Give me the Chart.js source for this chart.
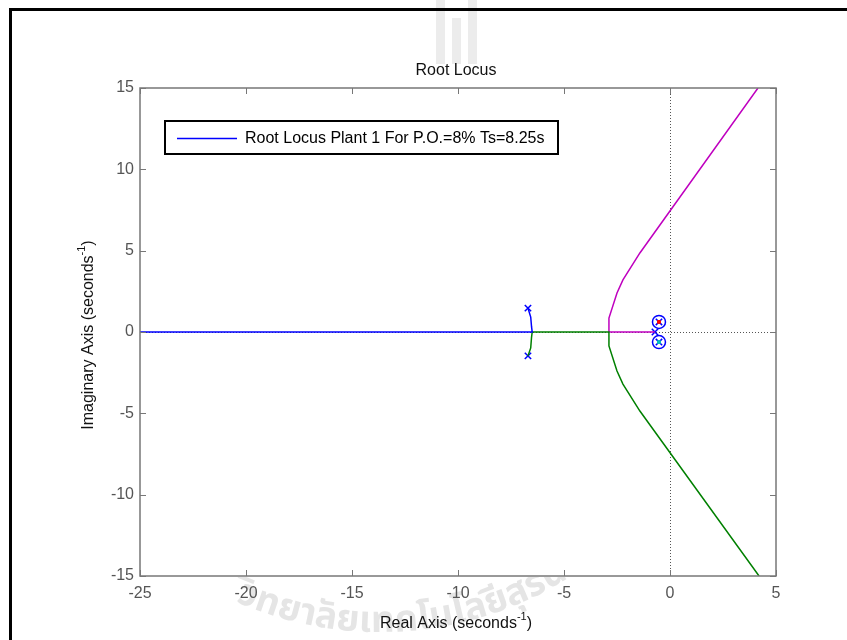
<!DOCTYPE html>
<html>
<head>
<meta charset="utf-8">
<title>Root Locus</title>
<script src="https://cdn.jsdelivr.net/npm/chart.js@4.4.1/dist/chart.umd.min.js"></script>
<style>
  html, body { margin: 0; padding: 0; background: #fff; }
  #wrap { width: 847px; height: 640px; position: relative; }
</style>
</head>
<body>
<div id="wrap"><canvas id="rlocus" width="847" height="640"></canvas></div>
<script>
// axis ranges and ticks
const xTicks = [-25, -20, -15, -10, -5, 0, 5];
const yTicks = [-15, -10, -5, 0, 5, 10, 15];

// branch 1 (blue): upper pole -> breakaway -> left along real axis
const blueRe = [-6.70, -6.57, -6.53, -6.50, -25];
const blueIm = [1.47, 0.92, 0.31, 0, 0];

// branch 2 (green): lower pole -> breakaway -> right -> down the asymptote
const greenRe = [-6.70, -6.57, -6.53, -6.50, -2.88, -2.88, -2.50, -2.22, -1.42, 4.20];
const greenIm = [-1.47, -0.98, -0.31, 0, 0, -0.86, -2.40, -3.20, -4.86, -15];

// branch 3 (magenta): real pole -> breakin -> up the asymptote
const magRe = [-0.71, -2.88, -2.88, -2.50, -2.22, -1.42, 4.15];
const magIm = [0, 0, 0.86, 2.40, 3.20, 4.86, 15];

// open loop poles and zeros
const poleRe = [-6.70, -6.70, -0.71, -0.52, -0.52];
const poleIm = [1.47, -1.47, 0, 0.62, -0.62];
const zeroRe = [-0.52, -0.52];
const zeroIm = [0.62, -0.62];

const legendText = "Root Locus Plant 1 For P.O.=8% Ts=8.25s";
const titleText = "Root Locus";
const FONT = "'Liberation Sans', Arial, sans-serif";

function pts(re, im) {
  return re.map((x, i) => ({ x: x, y: im[i] }));
}

function lineSet(re, im, color) {
  return {
    data: pts(re, im),
    showLine: true,
    borderColor: color,
    borderWidth: 1.5,
    pointRadius: 0,
    tension: 0,
    fill: false
  };
}

// text with a superscript "-1" e.g. "Real Axis (seconds^-1)"
function supText(ctx, pre, sup, post, x, y) {
  ctx.font = "16px " + FONT;
  const w1 = ctx.measureText(pre).width;
  ctx.font = "11px " + FONT;
  const w2 = ctx.measureText(sup).width;
  ctx.font = "16px " + FONT;
  const w3 = ctx.measureText(post).width;
  let sx = x - (w1 + w2 + w3) / 2;
  ctx.textAlign = "left";
  ctx.textBaseline = "middle";
  ctx.fillText(pre, sx, y);
  ctx.font = "11px " + FONT;
  ctx.fillText(sup, sx + w1, y - 7);
  ctx.font = "16px " + FONT;
  ctx.fillText(post, sx + w1 + w2, y);
}

const decorations = {
  id: "decorations",
  beforeDraw(chart) {
    const ctx = chart.ctx;
    const a = chart.chartArea;
    ctx.save();
    ctx.fillStyle = "#fff";
    ctx.fillRect(0, 0, chart.width, chart.height);

    // faint watermark (logo + arched text), kept outside the plot box
    ctx.fillStyle = "rgba(170,170,170,0.22)";
    ctx.fillRect(436, 0, 9, 64);
    ctx.fillRect(452, 18, 9, 46);
    ctx.fillRect(468, 0, 9, 64);
    ctx.save();
    ctx.beginPath();
    ctx.rect(0, a.bottom + 1, chart.width, chart.height);
    ctx.clip();
    const wm = "วิทยาลัยเทคโนโลยีสุรนารี";
    ctx.fillStyle = "rgba(150,150,150,0.25)";
    ctx.font = "bold 37px 'Noto Sans Thai', 'Noto Sans', sans-serif";
    ctx.textAlign = "center";
    ctx.textBaseline = "alphabetic";
    const cx = 380, cy = 277, r = 355;
    let ang = 114 * Math.PI / 180;
    for (const ch of Array.from(wm)) {
      const w = ctx.measureText(ch).width;
      if (w < 1) {
        // combining mark: draw over the previous glyph
        ctx.save();
        const pa = ang + 6 / r;
        ctx.translate(cx + r * Math.cos(pa), cy + r * Math.sin(pa));
        ctx.rotate(pa - Math.PI / 2);
        ctx.fillText(ch, 0, 0);
        ctx.restore();
        continue;
      }
      ang -= (w / 2) / r;
      ctx.save();
      ctx.translate(cx + r * Math.cos(ang), cy + r * Math.sin(ang));
      ctx.rotate(ang - Math.PI / 2);
      ctx.fillText(ch, 0, 0);
      ctx.restore();
      ang -= (w / 2) / r;
    }
    ctx.restore();

    // outer figure frame
    ctx.strokeStyle = "#000";
    ctx.lineWidth = 3;
    ctx.strokeRect(10.5, 9.5, 900, 700);
    ctx.restore();
  },
  beforeDatasetsDraw(chart) {
    const ctx = chart.ctx;
    const a = chart.chartArea;
    const xs = chart.scales.x, ys = chart.scales.y;
    ctx.save();
    // dotted zero lines
    ctx.strokeStyle = "#555";
    ctx.lineWidth = 1;
    ctx.setLineDash([1, 2]);
    const x0 = Math.round(xs.getPixelForValue(0)) + 0.5;
    const y0 = Math.round(ys.getPixelForValue(0)) + 0.5;
    ctx.beginPath();
    ctx.moveTo(x0, a.top); ctx.lineTo(x0, a.bottom);
    ctx.moveTo(a.left, y0); ctx.lineTo(a.right, y0);
    ctx.stroke();
    ctx.restore();
  },
  afterDraw(chart) {
    const ctx = chart.ctx;
    const a = chart.chartArea;
    const xs = chart.scales.x, ys = chart.scales.y;
    ctx.save();
    // axes box
    ctx.strokeStyle = "#777";
    ctx.lineWidth = 1.5;
    ctx.strokeRect(a.left, a.top, a.right - a.left, a.bottom - a.top);
    // inward ticks on all four sides
    ctx.lineWidth = 1;
    ctx.beginPath();
    xTicks.forEach(v => {
      const px = Math.round(xs.getPixelForValue(v)) + 0.5;
      ctx.moveTo(px, a.bottom); ctx.lineTo(px, a.bottom - 6);
      ctx.moveTo(px, a.top); ctx.lineTo(px, a.top + 6);
    });
    yTicks.forEach(v => {
      const py = Math.round(ys.getPixelForValue(v)) + 0.5;
      ctx.moveTo(a.left, py); ctx.lineTo(a.left + 6, py);
      ctx.moveTo(a.right, py); ctx.lineTo(a.right - 6, py);
    });
    ctx.stroke();

    // title and axis labels
    ctx.fillStyle = "#111";
    ctx.font = "16px " + FONT;
    ctx.textAlign = "center";
    ctx.textBaseline = "middle";
    ctx.fillText(titleText, (a.left + a.right) / 2 - 2, 71);
    supText(ctx, "Real Axis (seconds", "-1", ")", (a.left + a.right) / 2 - 2, 624);
    ctx.save();
    ctx.translate(89, (a.top + a.bottom) / 2 + 3);
    ctx.rotate(-Math.PI / 2);
    supText(ctx, "Imaginary Axis (seconds", "-1", ")", 0, 0);
    ctx.restore();

    // legend box
    const lx = 165, ly = 121, lw = 393, lh = 33;
    ctx.fillStyle = "#fff";
    ctx.fillRect(lx, ly, lw, lh);
    ctx.strokeStyle = "#000";
    ctx.lineWidth = 2;
    ctx.strokeRect(lx, ly, lw, lh);
    ctx.strokeStyle = "#0000ff";
    ctx.lineWidth = 1.5;
    ctx.beginPath();
    ctx.moveTo(lx + 12, ly + lh / 2 + 1);
    ctx.lineTo(lx + 72, ly + lh / 2 + 1);
    ctx.stroke();
    ctx.fillStyle = "#000";
    ctx.font = "16px " + FONT;
    ctx.textAlign = "left";
    ctx.textBaseline = "middle";
    ctx.fillText(legendText, lx + 80, ly + lh / 2 + 1);
    ctx.restore();
  }
};

new Chart(document.getElementById("rlocus"), {
  type: "scatter",
  data: {
    datasets: [
      lineSet(blueRe, blueIm, "#0000ff"),
      lineSet(greenRe, greenIm, "#008000"),
      lineSet(magRe, magIm, "#bf00bf"),
      {
        data: pts(zeroRe, zeroIm),
        pointStyle: "rect",
        pointRadius: 2,
        backgroundColor: ["#ff0000", "#00bfbf"],
        borderColor: ["#ff0000", "#00bfbf"],
        borderWidth: 1
      },
      {
        data: pts(poleRe, poleIm),
        pointStyle: "crossRot",
        pointRadius: 4.5,
        borderColor: "#0000ff",
        borderWidth: 1.5
      },
      {
        data: pts(zeroRe, zeroIm),
        pointStyle: "circle",
        pointRadius: 6.5,
        backgroundColor: "rgba(0,0,0,0)",
        borderColor: "#0000ff",
        borderWidth: 1.5
      }
    ]
  },
  options: {
    responsive: false,
    animation: false,
    events: [],
    layout: { padding: { top: 88, right: 71, left: 0, bottom: 0 } },
    plugins: {
      legend: { display: false },
      title: { display: false },
      tooltip: { enabled: false }
    },
    scales: {
      x: {
        type: "linear",
        min: xTicks[0],
        max: xTicks[xTicks.length - 1],
        afterBuildTicks: s => { s.ticks = xTicks.map(v => ({ value: v })); },
        afterFit: s => { s.height = 64; },
        grid: { display: false, drawTicks: false },
        border: { display: false },
        ticks: { color: "#555", padding: 8, font: { family: FONT, size: 16 } }
      },
      y: {
        type: "linear",
        min: yTicks[0],
        max: yTicks[yTicks.length - 1],
        afterBuildTicks: s => { s.ticks = yTicks.map(v => ({ value: v })); },
        afterFit: s => { s.width = 140; },
        grid: { display: false, drawTicks: false },
        border: { display: false },
        ticks: { color: "#555", padding: 6, font: { family: FONT, size: 16 } }
      }
    }
  },
  plugins: [decorations]
});
</script>
</body>
</html>
